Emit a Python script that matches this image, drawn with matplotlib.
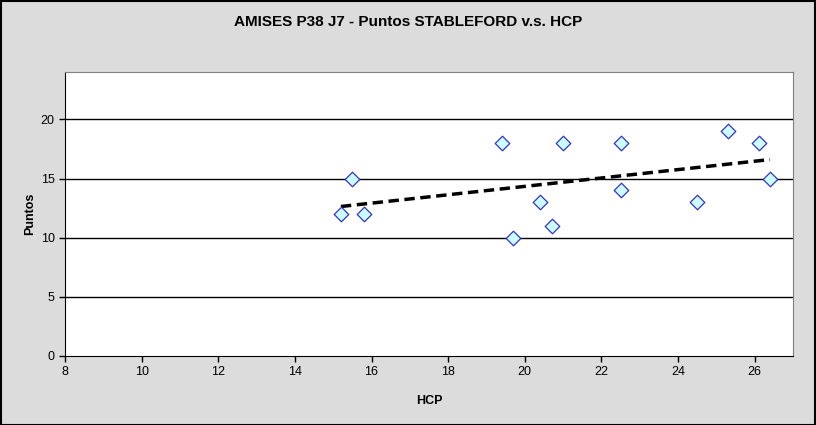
import numpy as np
from matplotlib import pyplot as plt

plt.rcParams['font.family'] = ['Liberation Sans', 'DejaVu Sans']

# HCP y puntos stableford de cada jugador
hcp = [15.2, 15.5, 15.8, 19.4, 19.7, 20.4, 20.7, 21.0, 22.5, 22.5, 24.5, 25.3, 26.1, 26.4]
puntos = [12, 15, 12, 18, 10, 13, 11, 18, 18, 14, 13, 19, 18, 15]

x_ticks = [8, 10, 12, 14, 16, 18, 20, 22, 24, 26]
y_ticks = [0, 5, 10, 15, 20]

fig = plt.figure(figsize=(8.16, 4.25), dpi=100, facecolor='#dcdcdc')
ax = fig.add_axes([65 / 816, 1 - 356 / 425, (793 - 65) / 816, (356 - 72) / 425])
ax.set_facecolor('white')

for y in y_ticks[1:]:
    ax.axhline(y, color='black', lw=1, zorder=1)

# linea de tendencia (regresion lineal)
slope, intercept = np.polyfit(hcp, puntos, 1)
x_fit = np.array([min(hcp), max(hcp)])
ax.plot(x_fit, slope * x_fit + intercept, color='black', lw=2.5, linestyle=(0, (3, 1.6)), zorder=2)

ax.scatter(hcp, puntos, marker='D', s=55, facecolor='#ccffff', edgecolor='#3333cc', linewidth=0.9, zorder=3)

ax.set_xlim(8, 27)
ax.set_ylim(0, 24)
ax.set_xticks(x_ticks)
ax.set_yticks(y_ticks)
ax.tick_params(direction='out', length=4, width=1, labelsize=9, colors='black')

for side in ['top', 'right']:
    ax.spines[side].set_color('#808080')
for side in ['left', 'bottom']:
    ax.spines[side].set_color('black')

ax.set_xlabel('HCP', fontsize=9, fontweight='bold', labelpad=12)
ax.set_ylabel('Puntos', fontsize=9, fontweight='bold', labelpad=3)
fig.suptitle('AMISES P38 J7 - Puntos STABLEFORD v.s. HCP', fontsize=11, fontweight='bold', y=0.965)

fig.patches.append(plt.Rectangle((0.0008, 0.001), 0.998, 0.997, transform=fig.transFigure,
                                 fill=False, edgecolor='black', lw=1.5))

plt.savefig('out.png', dpi=100, facecolor=fig.get_facecolor())
